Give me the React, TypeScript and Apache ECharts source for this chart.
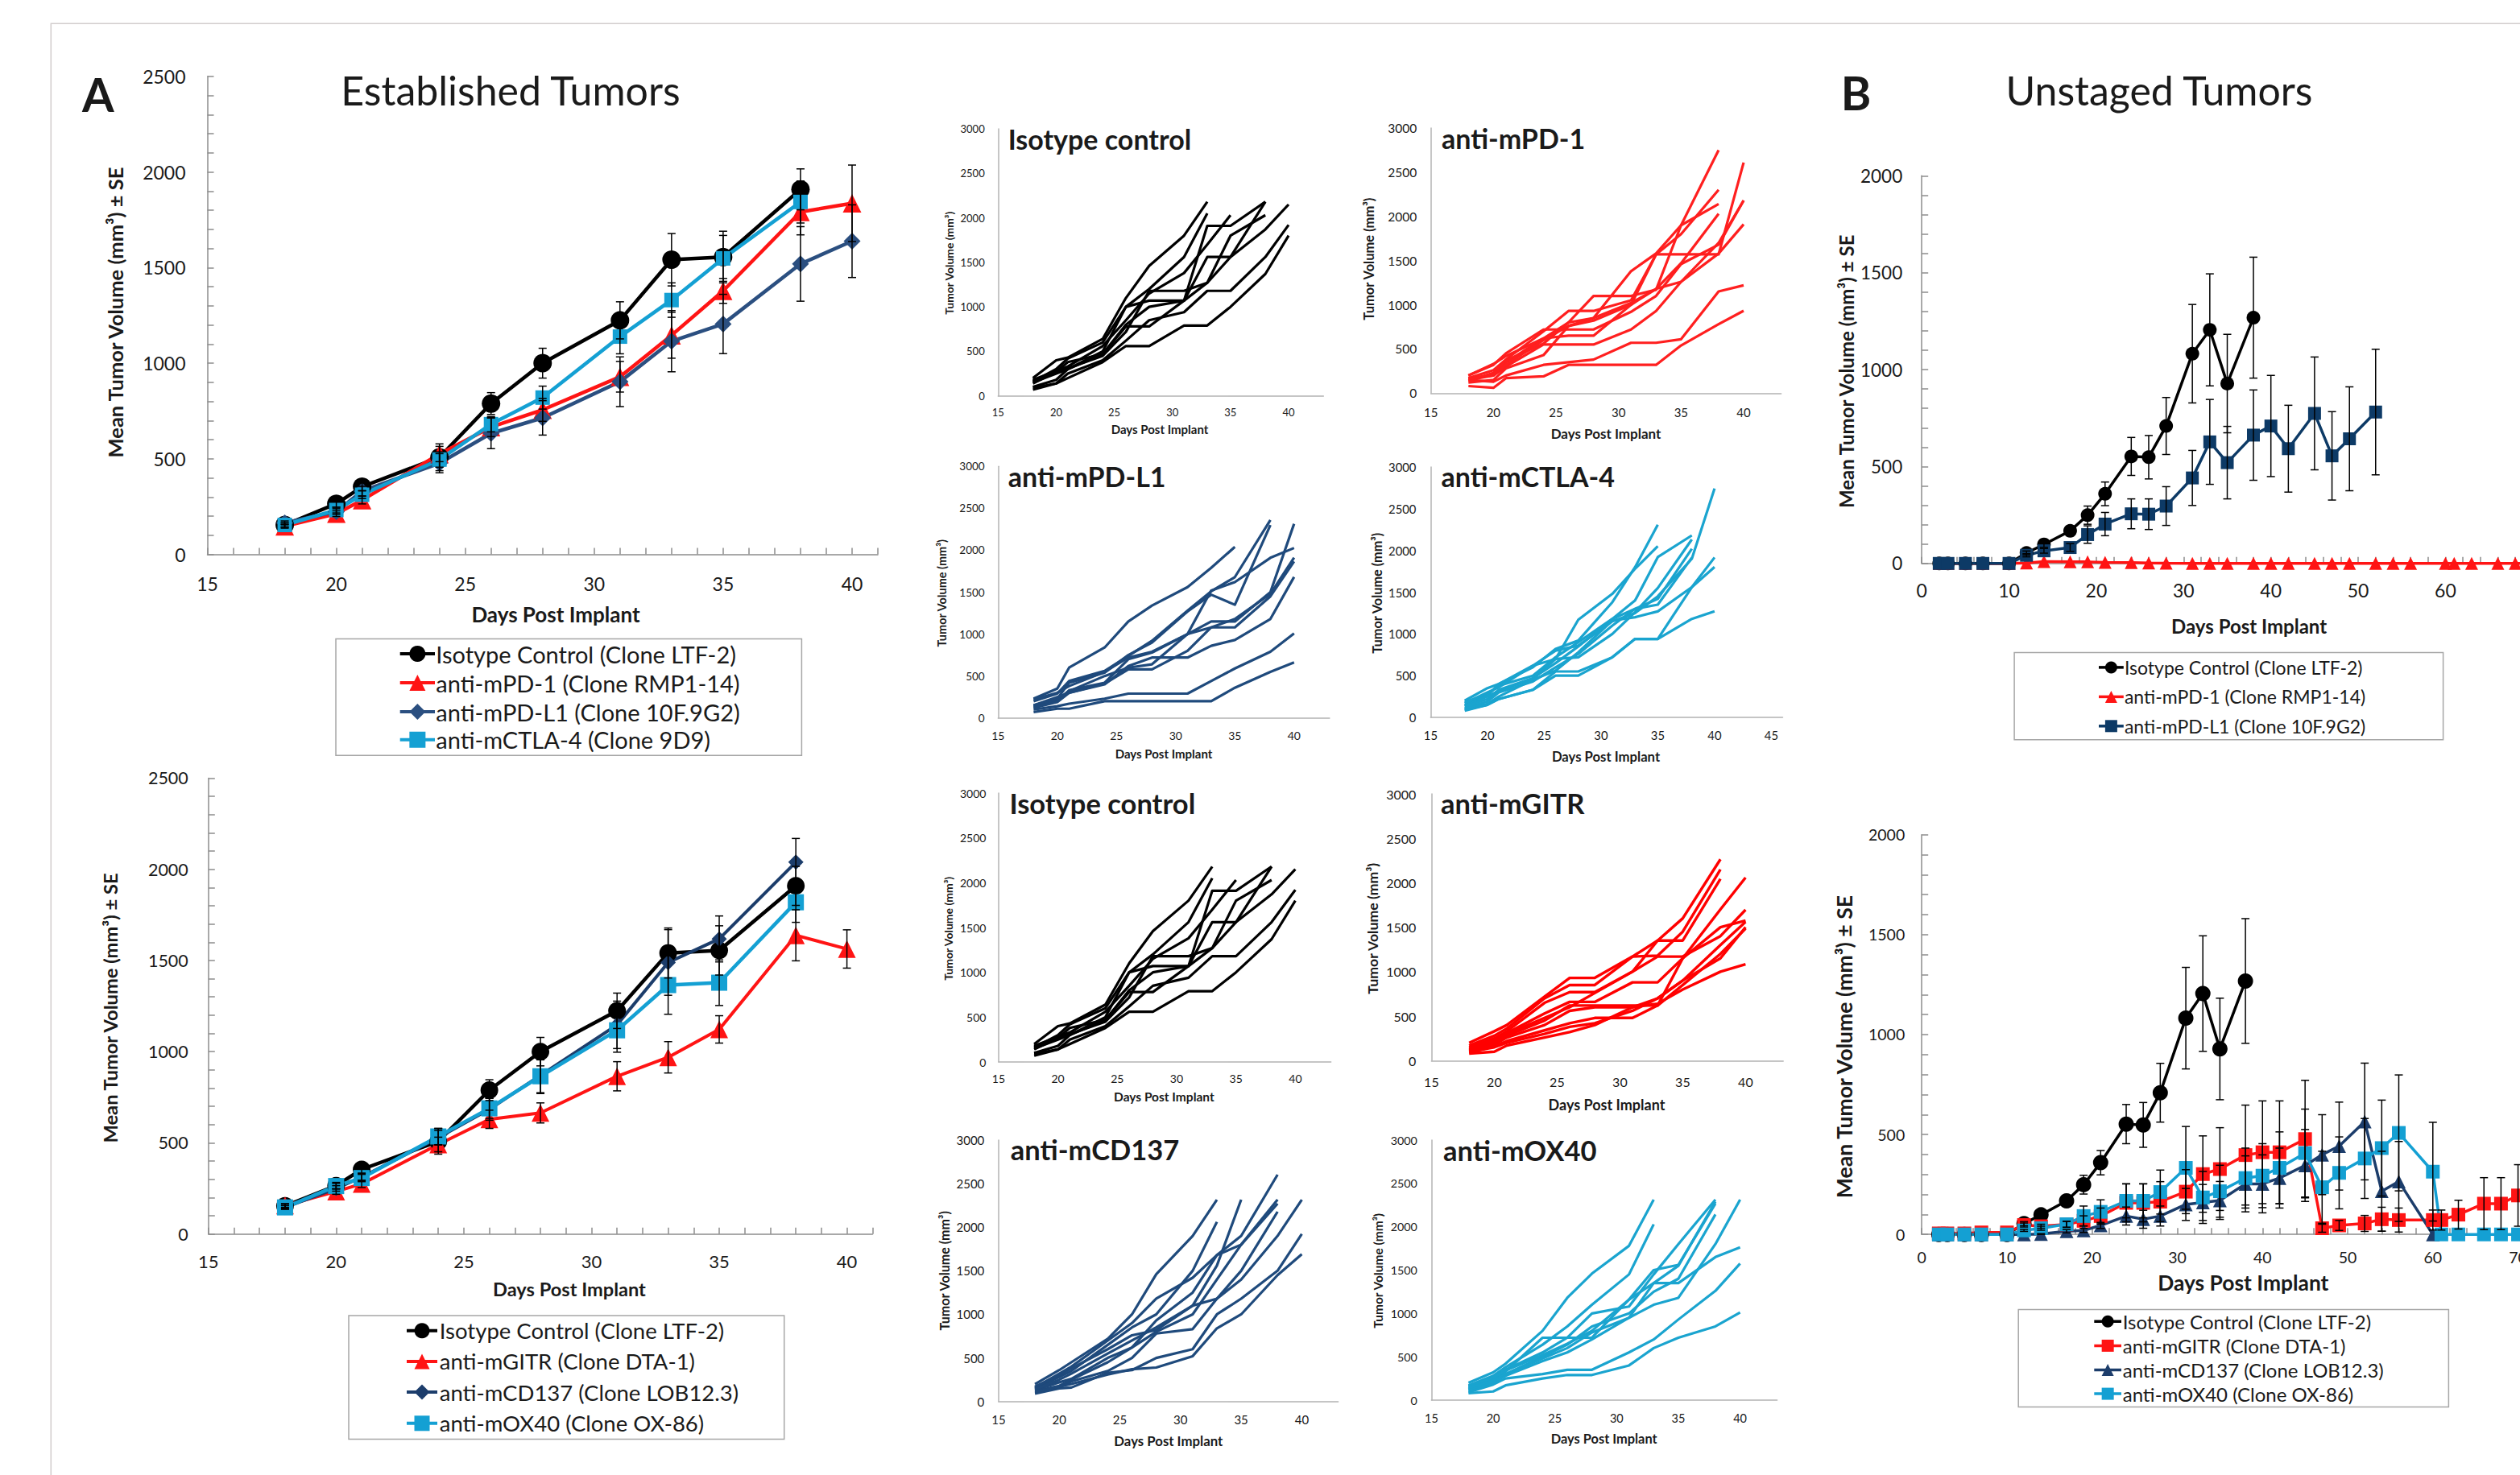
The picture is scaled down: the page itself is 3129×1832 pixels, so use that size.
import React, { useEffect, useRef } from "react";
import * as echarts from "echarts";

const FONT = "Lato, 'Open Sans', 'DejaVu Sans', sans-serif";
const TXT = "#1a1a1a";

// ---------------- Panel A : established tumours (mean ± SE) ----------------
const daysA = [18, 20, 21, 24, 26, 28, 31, 33, 35, 38, 40];
const isoA = [154, 265, 354, 508, 789, 1000, 1224, 1541, 1555, 1909];
const isoAse = [12, 18, 20, 70, 57, 78, 97, 137, 135, 107];
const pd1A = [147, 213, 284, 525, 666, 756, 929, 1146, 1378, 1791, 1836];
const pd1Ase = [10, 15, 20, 40, 50, 60, 80, 120, 65, 120, 200];
const pdl1A = [165, 224, 331, 477, 633, 714, 903, 1115, 1205, 1519, 1638];
const pdl1Ase = [10, 15, 25, 50, 80, 90, 130, 160, 155, 195, 190];
const ctla4A = [154, 232, 312, 496, 681, 820, 1139, 1330, 1548, 1843];
const ctla4Ase = [10, 15, 20, 40, 40, 60, 90, 90, 120, 110];
const gitrA = [156, 233, 275, 491, 629, 664, 865, 969, 1122, 1638, 1563];
const gitrAse = [10, 15, 20, 40, 50, 55, 80, 86, 75, 140, 105];
const cd137A = [146, 250, 312, 528, 684, 870, 1147, 1489, 1618, 2039];
const cd137Ase = [10, 15, 20, 40, 60, 100, 130, 180, 126, 130];
const ox40A = [146, 263, 307, 535, 689, 865, 1117, 1365, 1378, 1819];
const ox40Ase = [10, 15, 20, 45, 55, 90, 120, 160, 125, 110];

// ---------------- individual mice (spaghetti plots) ----------------
const daysS = [18, 20, 21, 24, 26, 28, 31, 33, 35, 38, 40];
const isoInd = [
  [200, 400, 430, 640, 1100, 1460, 1800, 2180],
  [160, 300, 420, 600, 1000, 1200, 1560, 2050],
  [180, 280, 330, 560, 850, 1150, 1380, 1700, 2030],
  [150, 250, 300, 500, 1000, 1070, 1070, 1910, 1910, 2180],
  [140, 270, 380, 470, 780, 780, 1070, 1560, 1560, 2180],
  [100, 180, 300, 470, 800, 1000, 1070, 1270, 1800, 2030],
  [170, 260, 310, 450, 720, 1180, 1180, 1270, 1560, 1870, 2150],
  [90, 140, 250, 400, 620, 850, 940, 1180, 1180, 1560, 1920],
  [70, 140, 200, 380, 560, 560, 790, 790, 1000, 1370, 1800],
];
const pd1Ind = [
  [80, 60, 170, 190, 320, 320, 320, 320, 540, 780, 932],
  [150, 130, 200, 320, 350, 380, 570, 570, 610, 1150, 1220],
  [170, 200, 300, 550, 550, 550, 720, 930, 1260, 1580, 1910],
  [200, 320, 450, 720, 720, 720, 920, 1100, 1460, 1680, 2180],
  [150, 200, 350, 620, 650, 650, 1000, 1570, 1570, 1570, 2610],
  [200, 330, 420, 620, 800, 1100, 1100, 1170, 1900, 2750],
  [170, 260, 380, 700, 930, 930, 1050, 1570, 1800, 2300],
  [140, 230, 370, 560, 800, 850, 1380, 1580, 1900, 2140],
  [120, 150, 280, 430, 760, 820, 1000, 1180, 1470, 2030],
  [160, 210, 320, 600, 760, 850, 1020, 1180, 1260, 1700, 2180],
];
const pdl1Ind = [
  [230, 350, 600, 840, 1150, 1340, 1560, 1790, 2040],
  [200, 290, 440, 560, 740, 920, 1280, 1510, 1680, 2360],
  [150, 230, 420, 540, 750, 900, 1270, 1470, 1350, 2300],
  [130, 200, 330, 420, 700, 780, 1000, 1150, 1150, 1500, 2315],
  [220, 300, 380, 550, 720, 790, 1000, 1520, 1620, 1910, 2027],
  [140, 220, 320, 500, 600, 640, 1000, 1080, 1180, 1480, 1911],
  [120, 190, 300, 410, 580, 580, 800, 1080, 1080, 1450, 1867],
  [150, 250, 300, 400, 620, 720, 720, 860, 930, 1180, 1681],
  [100, 140, 170, 230, 290, 290, 290, 440, 590, 790, 1008],
  [70, 110, 110, 200, 200, 200, 200, 200, 360, 550, 663],
];
const ctla4Ind = [
  [150, 260, 400, 600, 820, 920, 1380, 1800, 2309],
  [200, 350, 400, 620, 700, 1170, 1480, 1780, 2051],
  [180, 280, 380, 500, 720, 900, 1180, 1400, 1920, 2180],
  [140, 250, 320, 460, 700, 720, 1000, 1260, 1550, 2132],
  [130, 220, 330, 470, 650, 850, 1180, 1300, 1420, 2019],
  [110, 190, 300, 430, 600, 760, 1100, 1300, 1350, 1913],
  [170, 300, 360, 620, 800, 860, 1150, 1250, 1450, 1900, 2743],
  [90, 150, 220, 330, 550, 550, 720, 940, 940, 1560, 1916],
  [100, 160, 250, 450, 560, 780, 1160, 1200, 1270, 1560, 1801],
  [80, 150, 220, 330, 500, 500, 720, 940, 940, 1180, 1270],
];
const gitrInd = [
  [200, 330, 400, 720, 930, 930, 1170, 1350, 1600, 2264],
  [170, 280, 360, 700, 850, 850, 1170, 1180, 1450, 2149],
  [150, 250, 330, 650, 770, 770, 1000, 1350, 1350, 2043],
  [130, 230, 310, 530, 660, 660, 880, 880, 1150, 1700, 2058],
  [110, 200, 300, 480, 600, 760, 1000, 1170, 1170, 1400, 1696],
  [120, 210, 280, 450, 620, 620, 620, 620, 1150, 1500, 1575],
  [100, 180, 260, 400, 560, 600, 600, 700, 900, 1300, 1560],
  [90, 160, 220, 340, 420, 480, 480, 620, 850, 1200, 1485],
  [80, 100, 170, 260, 320, 400, 600, 640, 800, 1000, 1083],
  [100, 150, 200, 300, 380, 420, 560, 700, 900, 1150, 1500],
];
const cd137Ind = [
  [200, 360, 450, 720, 1000, 1460, 1900, 2316],
  [150, 280, 350, 650, 850, 1000, 1500, 2061],
  [170, 300, 380, 600, 760, 820, 1100, 1560, 2316],
  [130, 220, 260, 500, 620, 930, 1250, 1680, 1900, 2603],
  [160, 320, 400, 700, 900, 1180, 1420, 1680, 1800, 2316],
  [120, 180, 250, 450, 620, 800, 1000, 1400, 1800, 2270],
  [100, 160, 230, 350, 500, 780, 830, 1180, 1500, 2178],
  [140, 250, 320, 550, 700, 850, 1100, 1180, 1400, 1900, 2316],
  [90, 150, 160, 330, 360, 500, 600, 1000, 1180, 1500, 1922],
  [110, 170, 200, 310, 370, 390, 520, 840, 1000, 1450, 1691],
];
const ox40Ind = [
  [200, 320, 420, 800, 1180, 1460, 1780, 2313],
  [170, 280, 380, 640, 850, 1100, 1450, 2028],
  [150, 250, 350, 550, 720, 1000, 1080, 1450, 1800, 2313],
  [130, 240, 330, 720, 720, 720, 1160, 1500, 1560, 2266],
  [120, 230, 300, 500, 640, 850, 1000, 1250, 1400, 2142],
  [160, 260, 340, 520, 650, 800, 1160, 1350, 1550, 2290],
  [140, 220, 300, 480, 600, 780, 950, 1100, 1180, 1800, 2313],
  [110, 200, 280, 450, 550, 700, 950, 1350, 1350, 1650, 1762],
  [90, 180, 250, 300, 350, 350, 550, 700, 930, 1260, 1576],
  [80, 100, 170, 250, 290, 290, 400, 600, 720, 850, 1012],
];

// ---------------- Panel B : unstaged tumours (mean ± SE) ----------------
const daysB = [2, 3, 5, 7, 10, 12, 14, 17, 19, 21, 24, 26, 28, 31, 33, 35, 38, 40, 42, 45, 47, 49, 52, 54, 56, 60, 61, 63, 66, 68, 70];
const isoB = [0, 0, 0, 0, 0, 54, 98, 168, 249, 359, 552, 548, 709, 1082, 1205, 928, 1268];
const isoBse = [0, 0, 0, 0, 0, 10, 15, 25, 47, 61, 98, 112, 147, 254, 289, 254, 312];
const pd1B = [0, 0, 0, 0, 0, 2, 10, 8, 8, 5, 4, 2, 1, 0, 0, 0, 0, 0, 0, 0, 0, 0, 0, 0, 0, 0, 0, 0, 0, 0, 0];
const pdl1B = [0, 0, 0, 0, 0, 42, 65, 82, 149, 203, 256, 254, 296, 441, 627, 520, 662, 709, 592, 774, 555, 643, 781];
const pdl1Bse = [0, 0, 0, 0, 0, 8, 12, 20, 45, 60, 77, 79, 100, 142, 219, 187, 233, 261, 224, 291, 228, 268, 324];
const gitrB = [5, 5, 5, 10, 10, 47, 41, 50, 68, 92, 158, 158, 164, 214, 302, 327, 397, 411, 411, 477, 31, 45, 55, 76, 72, 72, 72, 99, 154, 154, 195];
const gitrBse = [0, 0, 0, 0, 0, 10, 10, 15, 25, 40, 95, 95, 100, 110, 191, 207, 250, 257, 257, 294, 20, 25, 40, 60, 60, 50, 50, 72, 130, 130, 154];
const cd137B = [0, 0, 0, 0, 0, 0, 2, 16, 20, 45, 92, 76, 92, 150, 160, 170, 253, 253, 282, 345, 399, 442, 565, 216, 265, 0];
const cd137Bse = [0, 0, 0, 0, 0, 0, 2, 8, 10, 15, 45, 45, 50, 80, 90, 95, 140, 145, 150, 180, 200, 220, 292, 200, 200, 0];
const ox40B = [0, 0, 0, 0, 0, 20, 31, 51, 92, 113, 168, 168, 212, 333, 185, 216, 282, 294, 333, 407, 236, 308, 380, 432, 508, 314, 0, 0, 0, 0, 0];
const ox40Bse = [0, 0, 0, 0, 0, 5, 10, 15, 50, 60, 85, 85, 110, 207, 130, 130, 150, 160, 180, 220, 180, 180, 200, 240, 290, 247, 0, 0, 0, 0, 0];

// ---------------- names ----------------
const N_ISO = "Isotype Control (Clone LTF-2)";
const N_PD1 = "anti-mPD-1 (Clone RMP1-14)";
const N_PDL1 = "anti-mPD-L1 (Clone 10F.9G2)";
const N_CTLA4 = "anti-mCTLA-4 (Clone 9D9)";
const N_GITR = "anti-mGITR (Clone DTA-1)";
const N_CD137 = "anti-mCD137 (Clone LOB12.3)";
const N_OX40 = "anti-mOX40 (Clone OX-86)";

// ---------------- colours ----------------
const BLACK = "#000000";
const RED = "#ff1414";
const NAVY_A = "#2b4f80";
const NAVY_A2 = "#1c3d6b";
const NAVY_B = "#0d3a66";
const CYAN = "#14a0d3";
const S_RED = "#ff1f1f";
const S_NAVY = "#1f4a7c";
const S_CYAN = "#1aa4cf";
const AX = "#8c8c8c";
const AX_S = "#b3b3b3";

// ---------------- layout (pixels) ----------------
const G = [
  { left: 257.5, top: 94.8, width: 832.5, height: 593.8 }, // 0 A top
  { left: 258.8, top: 966.4, width: 824.5, height: 566.3 }, // 1 A bottom
  { left: 1239.3, top: 160, width: 404, height: 331.7 }, // 2 iso
  { left: 1776.7, top: 159, width: 434.9, height: 329.3 }, // 3 pd1
  { left: 1239.3, top: 579.3, width: 411.6, height: 312.4 }, // 4 pdl1
  { left: 1776.4, top: 580, width: 437.1, height: 311 }, // 5 ctla4
  { left: 1239.9, top: 985, width: 412.7, height: 334 }, // 6 iso2
  { left: 1777.4, top: 986, width: 436.8, height: 331.3 }, // 7 gitr
  { left: 1239.9, top: 1416, width: 421.7, height: 324.7 }, // 8 cd137
  { left: 1777.4, top: 1416, width: 429.2, height: 323 }, // 9 ox40
  { left: 2386.2, top: 218.3, width: 780.3, height: 481.5 }, // 10 B top
  { left: 2386.2, top: 1036.7, width: 761.5, height: 496.5 }, // 11 B bottom
];

const fmtEvery = (k: number, maxShown = Infinity) => (v: number) => {
  const r = Math.round(v);
  return Math.abs(v - r) < 1e-6 && r % k === 0 && r <= maxShown ? String(r) : "";
};

function bigX(gi: number, min: number, max: number, step: number, every: number, fs: number, margin: number, maxShown = Infinity) {
  return {
    type: "value", gridIndex: gi, min, max, interval: step,
    axisLine: { show: true, onZero: false, lineStyle: { color: AX, width: 1.5 } },
    axisTick: { show: true, inside: true, length: 8, lineStyle: { color: AX, width: 1.5 } },
    splitLine: { show: false },
    axisLabel: { show: true, fontSize: fs, fontFamily: FONT, color: TXT, margin, formatter: fmtEvery(every, maxShown) },
  };
}
function bigY(gi: number, max: number, fs: number, margin: number) {
  return {
    type: "value", gridIndex: gi, min: 0, max, interval: 100,
    axisLine: { show: true, onZero: false, lineStyle: { color: AX, width: 1.5 } },
    axisTick: { show: true, inside: true, length: 8, lineStyle: { color: AX, width: 1.5 } },
    splitLine: { show: false },
    axisLabel: { show: true, fontSize: fs, fontFamily: FONT, color: TXT, margin, formatter: fmtEvery(500) },
  };
}
function smallX(gi: number, max: number, fs: number, margin: number) {
  return {
    type: "value", gridIndex: gi, min: 15, max, interval: 5,
    axisLine: { show: true, onZero: false, lineStyle: { color: AX_S, width: 1.5 } },
    axisTick: { show: false }, splitLine: { show: false },
    axisLabel: { show: true, fontSize: fs, fontFamily: FONT, color: TXT, margin, formatter: fmtEvery(5) },
  };
}
function smallY(gi: number, fs: number, margin: number) {
  return {
    type: "value", gridIndex: gi, min: 0, max: 3000, interval: 500,
    axisLine: { show: true, onZero: false, lineStyle: { color: AX_S, width: 1.5 } },
    axisTick: { show: false }, splitLine: { show: false },
    axisLabel: { show: true, fontSize: fs, fontFamily: FONT, color: TXT, margin, formatter: fmtEvery(500) },
  };
}

function meanLine(gi: number, name: string, days: number[], vals: number[], color: string, symbol: string, size: number, lw: number) {
  return {
    type: "line", name, xAxisIndex: gi, yAxisIndex: gi, clip: false,
    data: vals.map((v, i) => [days[i], v]),
    symbol, symbolSize: size, showSymbol: true,
    lineStyle: { color, width: lw }, itemStyle: { color, borderWidth: 0 },
    emphasis: { disabled: true }, z: 3,
  };
}
function errBars(gi: number, days: number[], vals: number[], se: number[], half: number) {
  const data: number[][] = [];
  vals.forEach((v, i) => { if (se[i] > 0) data.push([days[i], Math.max(0, v - se[i]), v + se[i]]); });
  return {
    type: "custom", xAxisIndex: gi, yAxisIndex: gi, silent: true, clip: false, z: 4,
    encode: { x: 0, y: [1, 2] },
    data,
    renderItem: (_p: any, api: any) => {
      const x = api.value(0);
      const a = api.coord([x, api.value(1)]);
      const b = api.coord([x, api.value(2)]);
      const st = { stroke: "#000", lineWidth: 1.5 };
      return {
        type: "group",
        children: [
          { type: "line", shape: { x1: a[0], y1: a[1], x2: b[0], y2: b[1] }, style: st },
          { type: "line", shape: { x1: a[0] - half, y1: a[1], x2: a[0] + half, y2: a[1] }, style: st },
          { type: "line", shape: { x1: b[0] - half, y1: b[1], x2: b[0] + half, y2: b[1] }, style: st },
        ],
      };
    },
  };
}
function spaghetti(gi: number, lines: number[][], color: string, lw: number) {
  return lines.map((vals) => ({
    type: "line", xAxisIndex: gi, yAxisIndex: gi, silent: true, clip: false,
    data: vals.map((v, i) => [daysS[i], v]),
    symbol: "none", lineStyle: { color, width: lw, join: "round" }, emphasis: { disabled: true },
  }));
}

// ---------------- graphic helpers ----------------
function txt(text: string, x: number, y: number, font: string, align = "center", rot = 0, fill = TXT) {
  return {
    type: "text", x, y, rotation: rot, silent: true,
    style: { text, font, fill, textAlign: align, align, textVerticalAlign: "middle", verticalAlign: "middle" },
  };
}
function marker(sym: string, cx: number, cy: number, s: number, color: string) {
  const h = s / 2;
  if (sym === "circle") return { type: "circle", shape: { cx, cy, r: h }, style: { fill: color }, silent: true };
  if (sym === "rect") return { type: "rect", shape: { x: cx - h, y: cy - h, width: s, height: s }, style: { fill: color }, silent: true };
  if (sym === "triangle") return { type: "polygon", shape: { points: [[cx, cy - h], [cx + h, cy + h], [cx - h, cy + h]] }, style: { fill: color }, silent: true };
  return { type: "polygon", shape: { points: [[cx, cy - h], [cx + h, cy], [cx, cy + h], [cx - h, cy]] }, style: { fill: color }, silent: true };
}
function legendBox(box: number[], rows: number[], lx1: number, lx2: number, tx: number, items: any[], fs: number, ms: number, lw: number) {
  const els: any[] = [{ type: "rect", silent: true, shape: { x: box[0], y: box[1], width: box[2], height: box[3] }, style: { fill: "#fff", stroke: "#a6a6a6", lineWidth: 1.5 } }];
  items.forEach((it, i) => {
    const y = rows[i];
    els.push({ type: "line", silent: true, shape: { x1: lx1, y1: y, x2: lx2, y2: y }, style: { stroke: it.color, lineWidth: lw } });
    els.push(marker(it.symbol, (lx1 + lx2) / 2, y, ms, it.color));
    els.push(txt(it.name, tx, y, `${fs}px ${FONT}`, "left"));
  });
  return els;
}

function buildOption() {
  const xAxis = [
    bigX(0, 15, 41, 1, 5, 23, 25),
    bigX(1, 15, 41, 1, 5, 22, 23),
    smallX(2, 43, 13, 13.5),
    smallX(3, 43, 15, 16),
    smallX(4, 43, 14, 14.3),
    smallX(5, 46, 14.8, 14.6),
    smallX(6, 43, 14, 13.3),
    smallX(7, 43, 16, 17.7),
    smallX(8, 43, 15, 15),
    smallX(9, 43, 14.5, 15),
    bigX(10, 0, 72, 2, 10, 23, 22, 60),
    bigX(11, 0, 72, 2, 10, 19.5, 18),
  ];
  const yAxis = [
    bigY(0, 2500, 23, 27),
    bigY(1, 2500, 21.5, 25),
    smallY(2, 13, 16.6),
    smallY(3, 15.5, 17.4),
    smallY(4, 13.5, 16.6),
    smallY(5, 14.8, 18),
    smallY(6, 14, 15.5),
    smallY(7, 16, 19),
    smallY(8, 15, 17.6),
    smallY(9, 14.3, 17.6),
    bigY(10, 2000, 22.5, 24),
    bigY(11, 2000, 19.5, 21),
  ];

  const series: any[] = [
    // A top
    meanLine(0, N_ISO, daysA, isoA, BLACK, "circle", 23, 4.5),
    meanLine(0, N_PD1, daysA, pd1A, RED, "triangle", 23, 4.5),
    meanLine(0, N_PDL1, daysA, pdl1A, NAVY_A, "diamond", 21, 4.5),
    meanLine(0, N_CTLA4, daysA, ctla4A, CYAN, "rect", 18, 4.5),
    errBars(0, daysA, isoA, isoAse, 5),
    errBars(0, daysA, pd1A, pd1Ase, 5),
    errBars(0, daysA, pdl1A, pdl1Ase, 5),
    errBars(0, daysA, ctla4A, ctla4Ase, 5),
    // A bottom
    meanLine(1, N_ISO, daysA, isoA, BLACK, "circle", 22, 4.5),
    meanLine(1, N_GITR, daysA, gitrA, RED, "triangle", 22, 4),
    meanLine(1, N_CD137, daysA, cd137A, NAVY_A2, "diamond", 19, 4),
    meanLine(1, N_OX40, daysA, ox40A, CYAN, "rect", 20, 4.5),
    errBars(1, daysA, isoA, isoAse, 5),
    errBars(1, daysA, gitrA, gitrAse, 5),
    errBars(1, daysA, cd137A, cd137Ase, 5),
    errBars(1, daysA, ox40A, ox40Ase, 5),
    // spaghetti
    ...spaghetti(2, isoInd, BLACK, 3.2),
    ...spaghetti(3, pd1Ind, S_RED, 3.2),
    ...spaghetti(4, pdl1Ind, S_NAVY, 3.2),
    ...spaghetti(5, ctla4Ind, S_CYAN, 3.2),
    ...spaghetti(6, isoInd, BLACK, 3.2),
    ...spaghetti(7, gitrInd, "#ff0000", 3.4),
    ...spaghetti(8, cd137Ind, S_NAVY, 3.2),
    ...spaghetti(9, ox40Ind, S_CYAN, 3.2),
    // B top
    meanLine(10, N_ISO, daysB, isoB, BLACK, "circle", 17, 3.5),
    meanLine(10, N_PD1, daysB, pd1B, RED, "triangle", 16, 3.5),
    meanLine(10, N_PDL1, daysB, pdl1B, NAVY_B, "rect", 16, 3.5),
    errBars(10, daysB, isoB, isoBse, 5),
    errBars(10, daysB, pdl1B, pdl1Bse, 5),
    // B bottom
    meanLine(11, N_ISO, daysB, isoB, BLACK, "circle", 19, 3.5),
    meanLine(11, N_GITR, daysB, gitrB, RED, "rect", 17, 3.5),
    meanLine(11, N_CD137, daysB, cd137B, NAVY_A2, "triangle", 17, 3.5),
    meanLine(11, N_OX40, daysB, ox40B, CYAN, "rect", 17, 3.5),
    errBars(11, daysB, isoB, isoBse, 5),
    errBars(11, daysB, gitrB, gitrBse, 5),
    errBars(11, daysB, cd137B, cd137Bse, 5),
    errBars(11, daysB, ox40B, ox40Bse, 5),
  ];

  const R90 = Math.PI / 2;
  const bold = (n: number) => `bold ${n}px ${FONT}`;
  const reg = (n: number) => `${n}px ${FONT}`;
  const YT = "Mean Tumor Volume (mm³) ± SE";
  const YS = "Tumor Volume (mm³)";
  const XT = "Days Post Implant";

  const graphic: any[] = [
    { type: "rect", silent: true, z: -10, shape: { x: 63.3, y: 29.3, width: 3200, height: 1900 }, style: { fill: "none", stroke: "#d2cdcd", lineWidth: 1.5 } },
    txt("A", 121.7, 117, bold(57)),
    txt("Established Tumors", 634, 112, reg(50)),
    txt("B", 2304.5, 115.3, bold(57)),
    txt("Unstaged Tumors", 2681, 112, reg(50)),
    // axis titles, big panels
    txt(YT, 143, 388, bold(25.5), "center", R90),
    txt(XT, 690, 763, bold(26)),
    txt(YT, 137, 1252, bold(23.7), "center", R90),
    txt(XT, 707, 1600.6, bold(23.6)),
    txt(YT, 2292, 461.3, bold(24), "center", R90),
    txt(XT, 2792.6, 777.2, bold(24)),
    txt(YT, 2290.4, 1300, bold(26.6), "center", R90),
    txt(XT, 2785.3, 1593.4, bold(26.4)),
    // small panels: titles
    txt("Isotype control", 1251.7, 172, bold(34), "left"),
    txt("anti-mPD-1", 1790, 171.7, bold(34), "left"),
    txt("anti-mPD-L1", 1251.7, 591, bold(34), "left"),
    txt("anti-mCTLA-4", 1789.5, 591, bold(34), "left"),
    txt("Isotype control", 1253.4, 997, bold(34.5), "left"),
    txt("anti-mGITR", 1789, 997, bold(34.5), "left"),
    txt("anti-mCD137", 1254.8, 1427, bold(34.5), "left"),
    txt("anti-mOX40", 1792, 1428, bold(34.5), "left"),
    // small panels: axis titles
    txt(YS, 1178.3, 326.7, bold(13.9), "center", R90),
    txt(XT, 1440, 533, bold(15)),
    txt(YS, 1700, 321.7, bold(16.5), "center", R90),
    txt(XT, 1994, 538, bold(17)),
    txt(YS, 1169, 736.7, bold(14.5), "center", R90),
    txt(XT, 1445, 936, bold(15)),
    txt(YS, 1709.3, 736.7, bold(16.3), "center", R90),
    txt(XT, 1994, 940, bold(16.7)),
    txt(YS, 1177, 1153.3, bold(14), "center", R90),
    txt(XT, 1445.4, 1361.7, bold(15.5)),
    txt(YS, 1704.4, 1153.3, bold(17.7), "center", R90),
    txt(XT, 1995, 1371.7, bold(18)),
    txt(YS, 1172.3, 1578.3, bold(16.1), "center", R90),
    txt(XT, 1450.8, 1789.3, bold(16.8)),
    txt(YS, 1711.2, 1578.3, bold(15.5), "center", R90),
    txt(XT, 1991.7, 1786, bold(16.4)),
    // legends
    ...legendBox([417, 793.5, 578.4, 144.8], [812, 848, 884, 918.7], 496.7, 540, 541.3, [
      { name: N_ISO, color: BLACK, symbol: "circle" },
      { name: N_PD1, color: RED, symbol: "triangle" },
      { name: N_PDL1, color: NAVY_A, symbol: "diamond" },
      { name: N_CTLA4, color: CYAN, symbol: "rect" },
    ], 29, 20, 4),
    ...legendBox([433, 1634, 540.7, 153.5], [1652.8, 1690.9, 1729, 1767.8], 505, 543, 545.8, [
      { name: N_ISO, color: BLACK, symbol: "circle" },
      { name: N_GITR, color: RED, symbol: "triangle" },
      { name: N_CD137, color: NAVY_A2, symbol: "diamond" },
      { name: N_OX40, color: CYAN, symbol: "rect" },
    ], 27.5, 19, 4),
    ...legendBox([2501.1, 810.4, 532.5, 108.3], [828.9, 865.4, 901.8], 2606, 2636.8, 2637.9, [
      { name: N_ISO, color: BLACK, symbol: "circle" },
      { name: N_PD1, color: RED, symbol: "triangle" },
      { name: N_PDL1, color: NAVY_B, symbol: "rect" },
    ], 23, 15, 3.5),
    ...legendBox([2506.2, 1626.5, 534.2, 120.9], [1641.3, 1671.4, 1701.5, 1731.1], 2600.3, 2634, 2635.7, [
      { name: N_ISO, color: BLACK, symbol: "circle" },
      { name: N_GITR, color: RED, symbol: "rect" },
      { name: N_CD137, color: NAVY_A2, symbol: "triangle" },
      { name: N_OX40, color: CYAN, symbol: "rect" },
    ], 24, 15, 3.5),
  ];

  return {
    animation: false,
    backgroundColor: "#ffffff",
    textStyle: { fontFamily: FONT },
    grid: G.map((g) => ({ ...g, containLabel: false, outerBoundsMode: "none", show: false })),
    xAxis,
    yAxis,
    series,
    graphic,
  };
}

export default function App() {
  const ref = useRef<HTMLDivElement>(null);
  useEffect(() => {
    const chart = echarts.init(ref.current as HTMLDivElement, null, { renderer: "svg", width: 3129, height: 1832 });
    chart.setOption(buildOption() as any);
    return () => chart.dispose();
  }, []);
  return (
    <div
      ref={ref}
      style={{ position: "absolute", left: 0, top: 0, width: 3129, height: 1832, background: "#fff", overflow: "hidden" }}
    />
  );
}
